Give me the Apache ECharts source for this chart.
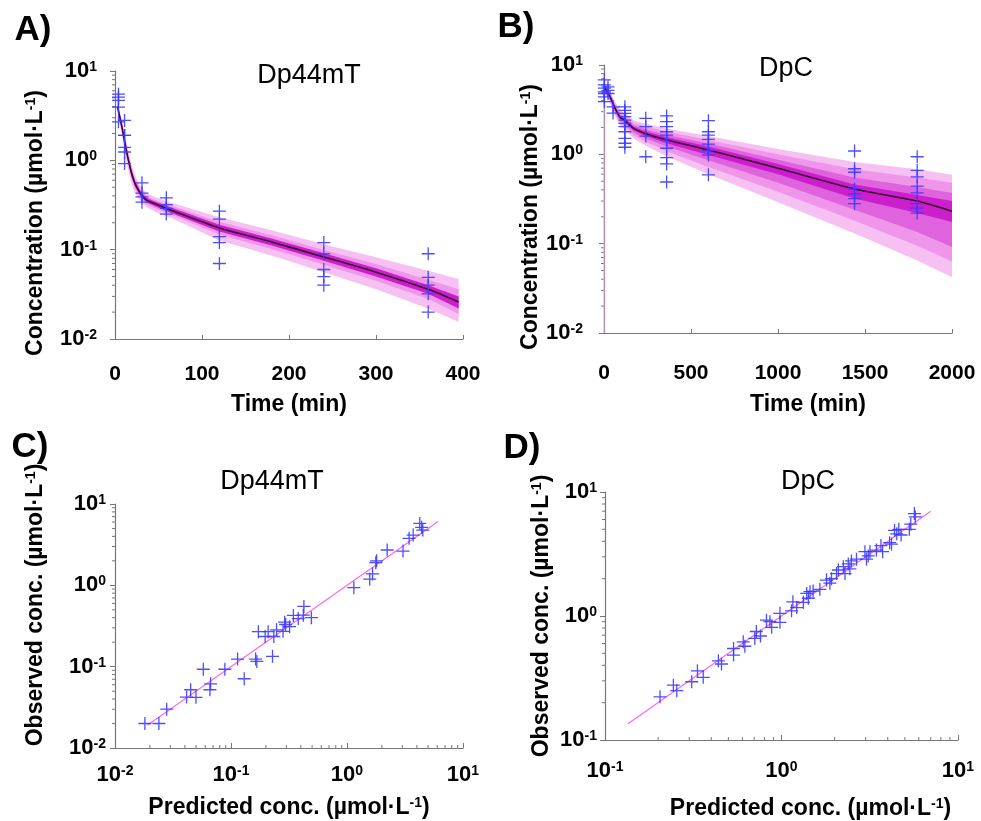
<!DOCTYPE html>
<html><head><meta charset="utf-8">
<script src="https://cdn.jsdelivr.net/npm/echarts@6/dist/echarts.min.js"></script>
<style>html,body{margin:0;padding:0;background:#fff}#c{width:981px;height:821px}</style>
</head><body><div id="c"></div>
<script>
// ---------- Panel A: Dp44mT concentration-time ----------
const timeA   = [3, 5, 8, 11.5, 15, 19, 23, 29, 36, 48, 63, 120, 180, 240, 300, 360, 395];
const medA    = [4.0, 3.2, 2.35, 1.55, 1.05, 0.72, 0.55, 0.43, 0.36, 0.32, 0.28, 0.175, 0.122, 0.083, 0.056, 0.036, 0.026];
const outHiA  = [4.5, 3.7, 2.8, 1.9, 1.3, 0.9, 0.68, 0.52, 0.43, 0.38, 0.34, 0.23, 0.165, 0.115, 0.082, 0.058, 0.047];
const outLoA  = [3.5, 2.7, 1.9, 1.2, 0.8, 0.55, 0.43, 0.35, 0.30, 0.26, 0.23, 0.127, 0.086, 0.056, 0.036, 0.022, 0.0155];
const midHiA  = [4.3, 3.5, 2.6, 1.75, 1.2, 0.82, 0.62, 0.48, 0.40, 0.355, 0.315, 0.205, 0.145, 0.099, 0.069, 0.046, 0.036];
const midLoA  = [3.7, 2.9, 2.1, 1.35, 0.9, 0.62, 0.48, 0.38, 0.32, 0.285, 0.25, 0.148, 0.102, 0.068, 0.045, 0.028, 0.019];
const inHiA   = [4.15, 3.35, 2.47, 1.65, 1.12, 0.77, 0.59, 0.455, 0.38, 0.34, 0.30, 0.19, 0.133, 0.091, 0.062, 0.040, 0.030];
const inLoA   = [3.85, 3.05, 2.23, 1.45, 0.98, 0.67, 0.51, 0.405, 0.34, 0.30, 0.26, 0.16, 0.111, 0.075, 0.050, 0.032, 0.022];
const obsTimeA = [4,4,4,4,4, 11,11,11,11,11,11, 31,31,31,31, 59,59,59,59, 120,120,120,120,120, 240,240,240,240,240, 360,360,360,360,360];
const obsConcA = [5.5,5.1,4.7,3.95,2.7, 2.8,1.9,1.9,1.4,1.24,0.92, 0.56,0.43,0.39,0.34, 0.38,0.32,0.29,0.25, 0.27,0.22,0.14,0.12,0.07, 0.12,0.09,0.06,0.05,0.04, 0.09,0.049,0.04,0.032,0.02];

// ---------- Panel B: DpC concentration-time ----------
const timeB = [2, 10, 35, 63, 92, 120, 170, 240, 360, 600, 1000, 1440, 1800, 2000];
const medB  = [6.0, 5.3, 4.4, 3.3, 2.6, 2.4, 1.95, 1.7, 1.45, 1.12, 0.70, 0.41, 0.30, 0.23];
const l1HiB = [6.6, 6.0, 5.1, 3.9, 3.1, 2.9, 2.4, 2.2, 1.95, 1.6, 1.15, 0.82, 0.68, 0.59];
const l1LoB = [5.4, 4.6, 3.7, 2.7, 2.1, 1.9, 1.5, 1.25, 0.95, 0.6, 0.29, 0.13, 0.065, 0.042];
const l2HiB = [6.45, 5.8, 4.9, 3.7, 2.95, 2.75, 2.25, 2.05, 1.8, 1.45, 1.0, 0.68, 0.55, 0.48];
const l2LoB = [5.55, 4.8, 3.9, 2.85, 2.25, 2.05, 1.63, 1.38, 1.08, 0.72, 0.38, 0.18, 0.095, 0.063];
const l3HiB = [6.3, 5.6, 4.7, 3.55, 2.8, 2.6, 2.12, 1.9, 1.65, 1.32, 0.87, 0.55, 0.43, 0.37];
const l3LoB = [5.7, 5.0, 4.1, 3.0, 2.4, 2.2, 1.76, 1.5, 1.22, 0.86, 0.48, 0.24, 0.135, 0.092];
const l4HiB = [6.15, 5.45, 4.55, 3.42, 2.7, 2.5, 2.04, 1.8, 1.55, 1.22, 0.78, 0.46, 0.35, 0.30];
const l4LoB = [5.85, 5.15, 4.25, 3.17, 2.5, 2.3, 1.86, 1.6, 1.33, 0.98, 0.60, 0.32, 0.22, 0.175];
const zeroTimeB = [0, 0];
const zeroConcB = [0.01, 5];
const obsTimeB = [2,2,2,2,2,2,2, 23,23,23, 52,52,
  120,120,120,120,120,120,120,120,120,120,120,
  240,240,240,240,
  360,360,360,360,360,360,360,360,360,360,
  600,600,600,600,600,600,600,600,
  1440,1440,1440,1440,1440,1440,1440,
  1800,1800,1800,1800,1800,1800,1800,1800];
const obsConcB = [6.8,6.0,5.5,5.0,4.8,4.4,3.9, 5.7,5.2,4.8, 3.4,2.9,
  3.4,3.1,2.88,2.64,2.42,2.22,2.04,1.79,1.51,1.33,1.2,
  2.53,2.04,1.6,0.94,
  2.69,2.32,2.04,1.79,1.64,1.45,1.17,0.92,0.78,0.49,
  2.38,1.79,1.64,1.47,1.3,1.1,0.98,0.59,
  1.09,0.69,0.63,0.41,0.36,0.32,0.28,
  0.94,0.66,0.56,0.44,0.37,0.28,0.25,0.22];

// ---------- Panel C: Dp44mT observed vs predicted ----------
const predC = [0.0181,0.0239,0.0279,0.0414,0.0449,0.0499,0.0577,0.0658,0.0667,0.0885,0.114,0.130,0.163,0.167,0.172,0.197,0.209,0.228,0.234,0.247,0.281,0.290,0.296,0.32,0.345,0.38,0.42,0.425,0.493,1.146,1.57,1.66,1.77,1.8,2.22,3.04,3.43,3.72,4.24,4.4,4.5];
const obsC  = [0.02,0.02,0.030,0.0423,0.052,0.042,0.093,0.052,0.0616,0.093,0.124,0.071,0.124,0.116,0.269,0.235,0.269,0.134,0.235,0.284,0.272,0.352,0.33,0.31,0.426,0.39,0.43,0.55,0.4,0.935,1.19,1.38,1.9,2.0,2.72,2.64,3.78,4.15,5.77,5.17,4.78];
const unityC = [0.019, 6.1];

// ---------- Panel D: DpC observed vs predicted ----------
const predD = [0.205,0.244,0.255,0.31,0.334,0.36,0.439,0.457,0.535,0.535,0.607,0.62,0.706,0.72,0.76,0.822,0.86,0.88,0.98,0.98,1.14,1.16,1.22,1.33,1.39,1.42,1.45,1.51,1.65,1.8,1.88,1.92,2.05,2.1,2.24,2.29,2.39,2.44,2.49,2.66,2.97,3.03,3.1,3.17,3.45,3.66,3.74,4.1,4.2,4.37,4.5,4.62,4.76,5.3,5.4,5.66,5.73];
const obsD  = [0.223,0.277,0.25,0.295,0.361,0.32,0.435,0.41,0.484,0.547,0.619,0.57,0.659,0.75,0.69,0.925,0.9,0.81,0.89,1.05,1.1,1.3,1.17,1.29,1.52,1.39,1.57,1.59,1.64,1.95,1.84,2.0,2.2,2.35,2.5,2.2,2.63,2.4,2.78,2.87,3.3,2.87,3.05,3.3,3.4,3.7,3.3,3.9,3.8,4.9,4.6,5.0,4.5,5.0,5.5,6.7,6.3];
const unityD = [0.135, 7.0];

// ---------- axis ticks ----------
const minorDecades2 = [0.02,0.03,0.04,0.05,0.06,0.07,0.08,0.09,0.2,0.3,0.4,0.5,0.6,0.7,0.8,0.9,2,3,4,5,6,7,8,9];
const minorDecades1 = [0.2,0.3,0.4,0.5,0.6,0.7,0.8,0.9,2,3,4,5,6,7,8,9];

const FONT = '"Liberation Sans", Arial, Helvetica, sans-serif';
const AXC = '#777777';
const BLUE = '#3b3bff';
const PLUS = 'path://M9,0h2v9h9v2h-9v9h-2v-9h-9v-2h9z';

function zip(a, b) { return a.map((v, i) => [v, b[i]]); }
function supFmt(v) { return '{b|10}{s|' + Math.round(Math.log10(v)) + '}'; }
const tickRich = {
  b: { fontSize: 22, fontWeight: 'bold', fontFamily: FONT, color: '#000' },
  s: { fontSize: 14, fontWeight: 'bold', fontFamily: FONT, color: '#000', verticalAlign: 'top' }
};
const nameStyle = (padding) => ({
  fontSize: 23, fontWeight: 'bold', fontFamily: FONT, color: '#000', padding: padding,
  rich: { sup: { fontSize: 14, fontWeight: 'bold', fontFamily: FONT, color: '#000', verticalAlign: 'top' } }
});
const CONC = 'Concentration (µmol·L{sup|-1})';
const OBS = 'Observed conc. (µmol·L{sup|-1})';
const PRED = 'Predicted conc. (µmol·L{sup|-1})';

function logY(g, min, max, margin, name, gap, pad) {
  return {
    type: 'log', logBase: 10, gridIndex: g, min: min, max: max,
    axisLine: { show: true, lineStyle: { color: AXC, width: 1.2 } },
    axisTick: { show: true, inside: false, length: 5, lineStyle: { color: AXC } },
    minorTick: { show: false }, splitLine: { show: false },
    axisLabel: { formatter: supFmt, rich: tickRich, margin: margin, fontSize: 22, fontWeight: 'bold', fontFamily: FONT, color: '#000' },
    name: name, nameLocation: 'middle', nameGap: gap, nameTextStyle: nameStyle(pad)
  };
}
function logX(g, min, max, margin, name, gap, pad) {
  return {
    type: 'log', logBase: 10, gridIndex: g, min: min, max: max,
    axisLine: { show: true, onZero: false, lineStyle: { color: AXC, width: 1.2 } },
    axisTick: { show: true, inside: true, length: 5, lineStyle: { color: AXC } },
    splitLine: { show: false },
    axisLabel: { formatter: supFmt, rich: tickRich, margin: margin, fontSize: 22, fontWeight: 'bold', fontFamily: FONT, color: '#000' },
    name: name, nameLocation: 'middle', nameGap: gap, nameTextStyle: nameStyle(pad)
  };
}
function linX(g, min, max, interval, margin, gap, pad) {
  return {
    type: 'value', gridIndex: g, min: min, max: max, interval: interval,
    axisLine: { show: true, onZero: false, lineStyle: { color: AXC, width: 1.2 } },
    axisTick: { show: true, inside: true, length: 4, lineStyle: { color: AXC } },
    splitLine: { show: false },
    axisLabel: { margin: margin, formatter: v => String(v), fontSize: 21, fontWeight: 'bold', fontFamily: FONT, color: '#000' },
    name: 'Time (min)', nameLocation: 'middle', nameGap: gap, nameTextStyle: nameStyle(pad)
  };
}

function band(idx, t, hi, lo, color, z) {
  return {
    type: 'custom', xAxisIndex: idx, yAxisIndex: idx, silent: true, z: z, clip: true,
    data: t.map((v, i) => [v, hi[i], lo[i]]),
    encode: { x: 0, y: [1, 2] },
    renderItem: function (params, api) {
      if (params.dataIndex !== 0) return null;
      const pts = [];
      for (let i = 0; i < t.length; i++) pts.push(api.coord([t[i], hi[i]]));
      for (let i = t.length - 1; i >= 0; i--) pts.push(api.coord([t[i], lo[i]]));
      return { type: 'polygon', shape: { points: pts }, style: { fill: color } };
    }
  };
}
function yMinor(idx, xMin, vals) {
  return {
    type: 'custom', xAxisIndex: idx, yAxisIndex: idx, silent: true, z: 5, clip: false,
    data: vals.map(v => [xMin, v]),
    renderItem: function (params, api) {
      const p = api.coord([api.value(0), api.value(1)]);
      return { type: 'line', shape: { x1: p[0] - 3, y1: p[1], x2: p[0], y2: p[1] }, style: { stroke: AXC, lineWidth: 1 } };
    }
  };
}
function xMinor(idx, yMin, vals) {
  return {
    type: 'custom', xAxisIndex: idx, yAxisIndex: idx, silent: true, z: 5, clip: false,
    data: vals.map(v => [v, yMin]),
    renderItem: function (params, api) {
      const p = api.coord([api.value(0), api.value(1)]);
      return { type: 'line', shape: { x1: p[0], y1: p[1], x2: p[0], y2: p[1] - 3 }, style: { stroke: AXC, lineWidth: 1 } };
    }
  };
}
function crosses(idx, data) {
  return {
    type: 'scatter', xAxisIndex: idx, yAxisIndex: idx, data: data, z: 10,
    symbol: PLUS, symbolSize: 13, itemStyle: { color: BLUE, opacity: 0.9 }, silent: true
  };
}
function medLine(idx, t, m) {
  return {
    type: 'line', xAxisIndex: idx, yAxisIndex: idx, data: zip(t, m), showSymbol: false, smooth: 0.25, z: 8,
    lineStyle: { color: '#3a0032', width: 1.6 }, silent: true
  };
}
function unity(idx, v) {
  return {
    type: 'line', xAxisIndex: idx, yAxisIndex: idx, data: zip(v, v), showSymbol: false, z: 7,
    lineStyle: { color: '#ff66f0', width: 1.2 }, silent: true
  };
}

const C1 = '#f6c0f2', C2 = '#ef96eb', C3 = '#e063de', C4 = '#cb1fcb';

const option = {
  backgroundColor: '#ffffff',
  animation: false,
  textStyle: { fontFamily: FONT },
  grid: [
    { left: 115, top: 71, width: 348, height: 268 },
    { left: 604, top: 65, width: 348, height: 268 },
    { left: 115, top: 504, width: 348, height: 244 },
    { left: 605, top: 492, width: 353, height: 248 }
  ],
  xAxis: [
    linX(0, 0, 400, 100, 25, 54, [0, 0, 0, 0]),
    linX(1, 0, 2000, 500, 30, 60, [0, 0, 0, 60]),
    logX(2, 0.01, 10, 16, PRED, 48, [0, 0, 0, 0]),
    logX(3, 0.1, 10, 20, PRED, 57, [0, 0, 0, 58])
  ],
  yAxis: [
    logY(0, 0.01, 10, 18, CONC, 68, [0, 36, 0, 0]),
    logY(1, 0.01, 10, 21, CONC, 56, [0, 36, 0, 0]),
    logY(2, 0.01, 10, 9, OBS, 68, [0, 0, 0, 42]),
    logY(3, 0.1, 10, 8, OBS, 52, [0, 0, 0, 0])
  ],
  graphic: [
    { type: 'text', x: 33, y: 30, style: { text: 'A)', font: 'bold 35px ' + FONT, fill: '#000', align: 'center', verticalAlign: 'middle' } },
    { type: 'text', x: 516, y: 27, style: { text: 'B)', font: 'bold 35px ' + FONT, fill: '#000', align: 'center', verticalAlign: 'middle' } },
    { type: 'text', x: 30, y: 447, style: { text: 'C)', font: 'bold 35px ' + FONT, fill: '#000', align: 'center', verticalAlign: 'middle' } },
    { type: 'text', x: 522, y: 448, style: { text: 'D)', font: 'bold 35px ' + FONT, fill: '#000', align: 'center', verticalAlign: 'middle' } },
    { type: 'text', x: 309, y: 76, style: { text: 'Dp44mT', font: '27px ' + FONT, fill: '#000', align: 'center', verticalAlign: 'middle' } },
    { type: 'text', x: 786, y: 69, style: { text: 'DpC', font: '27px ' + FONT, fill: '#000', align: 'center', verticalAlign: 'middle' } },
    { type: 'text', x: 272, y: 482, style: { text: 'Dp44mT', font: '27px ' + FONT, fill: '#000', align: 'center', verticalAlign: 'middle' } },
    { type: 'text', x: 808, y: 482, style: { text: 'DpC', font: '27px ' + FONT, fill: '#000', align: 'center', verticalAlign: 'middle' } }
  ],
  series: [
    // A
    band(0, timeA, outHiA, outLoA, C1, 2),
    band(0, timeA, midHiA, midLoA, C2, 3),
    band(0, timeA, inHiA, inLoA, C4, 4),
    medLine(0, timeA, medA),
    crosses(0, zip(obsTimeA, obsConcA)),
    yMinor(0, 0, minorDecades2),
    // B
    {
      type: 'line', xAxisIndex: 1, yAxisIndex: 1, data: zip(zeroTimeB, zeroConcB), showSymbol: false, z: 6,
      lineStyle: { color: '#f4a4f0', width: 1 }, silent: true
    },
    band(1, timeB, l1HiB, l1LoB, C1, 2),
    band(1, timeB, l2HiB, l2LoB, C2, 3),
    band(1, timeB, l3HiB, l3LoB, C3, 4),
    band(1, timeB, l4HiB, l4LoB, C4, 5),
    medLine(1, timeB, medB),
    crosses(1, zip(obsTimeB, obsConcB)),
    yMinor(1, 0, minorDecades2),
    // C
    unity(2, unityC),
    crosses(2, zip(predC, obsC)),
    yMinor(2, 0.01, minorDecades2),
    xMinor(2, 0.01, minorDecades2),
    // D
    unity(3, unityD),
    crosses(3, zip(predD, obsD)),
    yMinor(3, 0.1, minorDecades1),
    xMinor(3, 0.1, minorDecades1)
  ]
};

const chart = echarts.init(document.getElementById('c'), null, { renderer: 'canvas' });
chart.setOption(option);
</script></body></html>
